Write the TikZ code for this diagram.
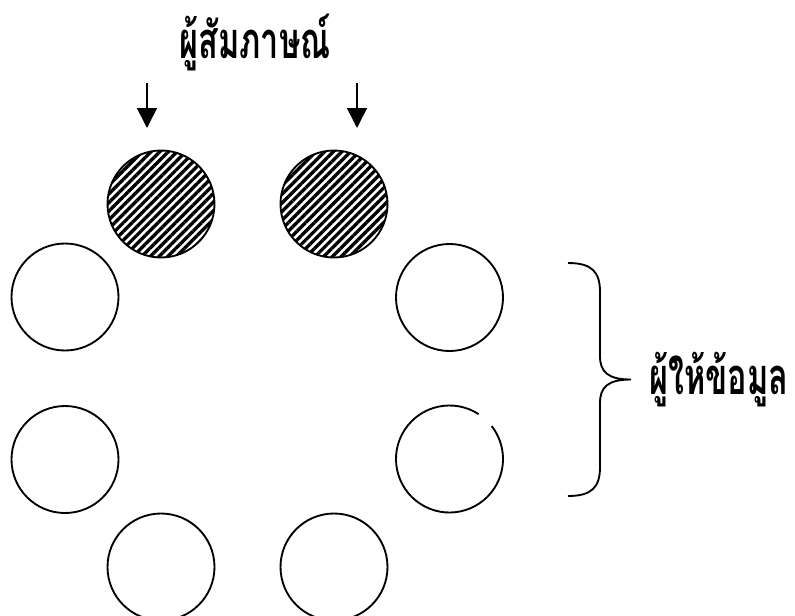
\documentclass[tikz,border=0pt]{standalone}
\usepackage{fontspec}
\newfontfamily\thaifont[Script=Thai,FakeStretch=0.64]{Loma}
\usetikzlibrary{patterns.meta,arrows.meta}
\begin{document}
\begin{tikzpicture}[x=0.75pt,y=-0.75pt,
  person/.style={circle,draw,line width=1.4pt,minimum size=80.25pt,inner sep=0pt},
  interviewer/.style={person,pattern={Lines[angle=45,distance=4.6pt,line width=2.5pt]}},
  pointer/.style={line width=1.2pt,-{Triangle[width=15pt,length=15pt]}},
  lbl/.style={font=\thaifont\bfseries\fontsize{38}{44}\selectfont,inner sep=0pt}]
\useasboundingbox (0,0) rectangle (795,615);
% circles
\node[interviewer] (H1) at (161,204) {};
\node[interviewer] (H2) at (334,204) {};
\node[person] (L1) at (65,297) {};
\node[person] (R1) at (449.5,297.5) {};
\node[person] (L2) at (65,459.5) {};
\node[person,draw=none] (R2) at (449.5,459) {};
\draw[line width=1.4pt] ([shift={(57:40.125pt)}]R2.center) arc[start angle=57,end angle=398,radius=40.125pt];
\node[person] (B1) at (161,567) {};
\node[person] (B2) at (334,567) {};
% title and arrows
\node[lbl] (title) at (255,42) {ผู้สัมภาษณ์};
\coordinate (a1s) at (147,83);
\coordinate (a1e) at (147,128);
\coordinate (a2s) at (357,83);
\coordinate (a2e) at (357,128);
\draw[pointer] (a1s) -- (a1e);
\draw[pointer] (a2s) -- (a2e);
% brace
\coordinate (bt) at (568,263);
\coordinate (bm) at (631,379.5);
\coordinate (bb) at (568,496);
\draw[line width=1.4pt] (bt) .. controls (592,263) and (600,272) .. (600,292) -- (600,356)
  .. controls (600,372) and (608,379.5) .. (bm)
  .. controls (608,379.5) and (600,387) .. (600,403) -- (600,467)
  .. controls (600,487) and (592,496) .. (bb);
\node[lbl,anchor=west] (info) at (649,380) {ผู้ให้ข้อมูล};
\end{tikzpicture}
\end{document}
